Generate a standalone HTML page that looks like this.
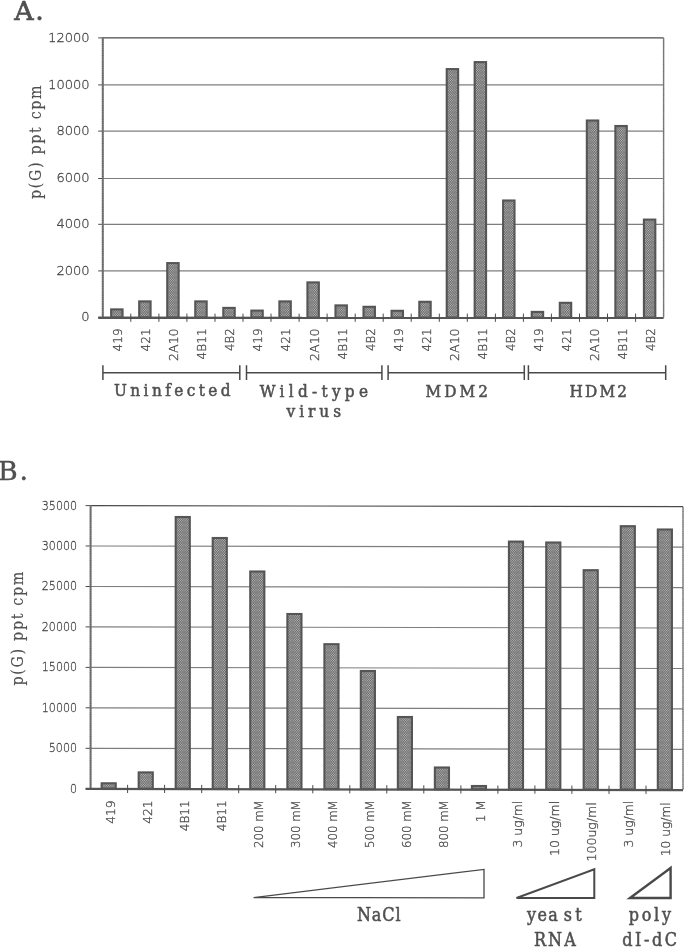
<!DOCTYPE html>
<html><head><meta charset="utf-8"><title>Figure</title>
<style>
html,body{margin:0;padding:0;background:#fff;}
svg{display:block;}
.sans{font-family:"DejaVu Sans","Liberation Sans",sans-serif;font-weight:200;fill:#484848;stroke:#484848;stroke-width:0.3px;}
.serif{font-family:"DejaVu Serif Condensed","DejaVu Serif","Liberation Serif",serif;font-stretch:condensed;fill:#505050;stroke:#505050;stroke-width:0.5px;}
.wide{font-family:"DejaVu Serif","Liberation Serif",serif;font-stretch:normal;}
</style></head><body>
<svg width="685" height="948" viewBox="0 0 685 948">
<defs>
<pattern id="ht" width="9" height="5" patternUnits="userSpaceOnUse">
<rect width="9" height="5" fill="#6c6c6c"/>
<g fill="#c4c4c4"><circle cx="0.56" cy="0.62" r="0.54"/><circle cx="2.81" cy="0.62" r="0.54"/><circle cx="5.06" cy="0.62" r="0.54"/><circle cx="7.31" cy="0.62" r="0.54"/><circle cx="1.69" cy="1.87" r="0.54"/><circle cx="3.94" cy="1.87" r="0.54"/><circle cx="6.19" cy="1.87" r="0.54"/><circle cx="8.44" cy="1.87" r="0.54"/><circle cx="0.56" cy="3.12" r="0.54"/><circle cx="2.81" cy="3.12" r="0.54"/><circle cx="5.06" cy="3.12" r="0.54"/><circle cx="7.31" cy="3.12" r="0.54"/><circle cx="1.69" cy="4.37" r="0.54"/><circle cx="3.94" cy="4.37" r="0.54"/><circle cx="6.19" cy="4.37" r="0.54"/><circle cx="8.44" cy="4.37" r="0.54"/></g>
</pattern>
<filter id="soft" x="-5%" y="-5%" width="110%" height="110%"><feGaussianBlur stdDeviation="0.45"/></filter>
</defs>
<rect width="685" height="948" fill="#fff"/>
<g filter="url(#soft)">

<line x1="98.2" y1="317.6" x2="102.8" y2="317.6" stroke="#4a4a4a" stroke-width="1"/>
<text class="sans" x="89.6" y="321.1" font-size="12.7" text-anchor="end" textLength="8.3" lengthAdjust="spacingAndGlyphs">0</text>
<line x1="102.8" y1="270.9" x2="663.6" y2="270.9" stroke="#7e7e7e" stroke-width="1.15"/>
<line x1="98.2" y1="270.9" x2="102.8" y2="270.9" stroke="#4a4a4a" stroke-width="1"/>
<text class="sans" x="89.6" y="274.5" font-size="12.7" text-anchor="end" textLength="33.2" lengthAdjust="spacingAndGlyphs">2000</text>
<line x1="102.8" y1="224.3" x2="663.6" y2="224.3" stroke="#7e7e7e" stroke-width="1.15"/>
<line x1="98.2" y1="224.3" x2="102.8" y2="224.3" stroke="#4a4a4a" stroke-width="1"/>
<text class="sans" x="89.6" y="227.9" font-size="12.7" text-anchor="end" textLength="33.2" lengthAdjust="spacingAndGlyphs">4000</text>
<line x1="102.8" y1="178.5" x2="663.6" y2="178.5" stroke="#7e7e7e" stroke-width="1.15"/>
<line x1="98.2" y1="178.5" x2="102.8" y2="178.5" stroke="#4a4a4a" stroke-width="1"/>
<text class="sans" x="89.6" y="182.1" font-size="12.7" text-anchor="end" textLength="33.2" lengthAdjust="spacingAndGlyphs">6000</text>
<line x1="102.8" y1="131.1" x2="663.6" y2="131.1" stroke="#7e7e7e" stroke-width="1.15"/>
<line x1="98.2" y1="131.1" x2="102.8" y2="131.1" stroke="#4a4a4a" stroke-width="1"/>
<text class="sans" x="89.6" y="134.7" font-size="12.7" text-anchor="end" textLength="33.2" lengthAdjust="spacingAndGlyphs">8000</text>
<line x1="102.8" y1="84.9" x2="663.6" y2="84.9" stroke="#7e7e7e" stroke-width="1.15"/>
<line x1="98.2" y1="84.9" x2="102.8" y2="84.9" stroke="#4a4a4a" stroke-width="1"/>
<text class="sans" x="89.6" y="88.5" font-size="12.7" text-anchor="end" textLength="41.5" lengthAdjust="spacingAndGlyphs">10000</text>
<line x1="98.2" y1="37.9" x2="102.8" y2="37.9" stroke="#4a4a4a" stroke-width="1"/>
<text class="sans" x="89.6" y="41.5" font-size="12.7" text-anchor="end" textLength="41.5" lengthAdjust="spacingAndGlyphs">12000</text>
<line x1="102.8" y1="37.9" x2="663.6" y2="37.9" stroke="#4a4a4a" stroke-width="1.2"/>
<line x1="663.6" y1="37.9" x2="663.6" y2="317.55" stroke="#808080" stroke-width="1.4"/>
<line x1="663.6" y1="37.9" x2="663.6" y2="317.55" stroke="#4a4a4a" stroke-width="1.4" stroke-dasharray="0.9 1.3" opacity="0.35"/>
<rect x="111.15" y="309.4" width="11.4" height="8.2" fill="url(#ht)" stroke="#555" stroke-width="2.1"/>
<rect x="139.19" y="301.4" width="11.4" height="16.2" fill="url(#ht)" stroke="#555" stroke-width="2.1"/>
<rect x="167.23" y="263.1" width="11.4" height="54.5" fill="url(#ht)" stroke="#555" stroke-width="2.1"/>
<rect x="195.27" y="301.4" width="11.4" height="16.2" fill="url(#ht)" stroke="#555" stroke-width="2.1"/>
<rect x="223.31" y="307.9" width="11.4" height="9.7" fill="url(#ht)" stroke="#555" stroke-width="2.1"/>
<rect x="251.35" y="310.6" width="11.4" height="7.0" fill="url(#ht)" stroke="#555" stroke-width="2.1"/>
<rect x="279.39" y="301.4" width="11.4" height="16.2" fill="url(#ht)" stroke="#555" stroke-width="2.1"/>
<rect x="307.43" y="282.4" width="11.4" height="35.2" fill="url(#ht)" stroke="#555" stroke-width="2.1"/>
<rect x="335.47" y="305.4" width="11.4" height="12.2" fill="url(#ht)" stroke="#555" stroke-width="2.1"/>
<rect x="363.51" y="306.8" width="11.4" height="10.8" fill="url(#ht)" stroke="#555" stroke-width="2.1"/>
<rect x="391.55" y="310.8" width="11.4" height="6.8" fill="url(#ht)" stroke="#555" stroke-width="2.1"/>
<rect x="419.29" y="301.8" width="11.4" height="15.8" fill="url(#ht)" stroke="#555" stroke-width="2.1"/>
<rect x="446.73" y="69.1" width="11.4" height="248.4" fill="url(#ht)" stroke="#555" stroke-width="2.1"/>
<rect x="474.67" y="62.1" width="11.4" height="255.4" fill="url(#ht)" stroke="#555" stroke-width="2.1"/>
<rect x="503.11" y="200.5" width="11.4" height="117.1" fill="url(#ht)" stroke="#555" stroke-width="2.1"/>
<rect x="531.75" y="311.9" width="11.4" height="5.7" fill="url(#ht)" stroke="#555" stroke-width="2.1"/>
<rect x="559.79" y="302.8" width="11.4" height="14.8" fill="url(#ht)" stroke="#555" stroke-width="2.1"/>
<rect x="586.83" y="120.5" width="11.4" height="197.0" fill="url(#ht)" stroke="#555" stroke-width="2.1"/>
<rect x="615.37" y="126.0" width="11.4" height="191.5" fill="url(#ht)" stroke="#555" stroke-width="2.1"/>
<rect x="643.91" y="219.6" width="11.4" height="98.0" fill="url(#ht)" stroke="#555" stroke-width="2.1"/>
<line x1="102.8" y1="37.4" x2="102.8" y2="318.05" stroke="#747474" stroke-width="2"/>
<line x1="102.8" y1="37.4" x2="102.8" y2="318.05" stroke="#4a4a4a" stroke-width="2" stroke-dasharray="0.9 1.3" opacity="0.35"/>
<line x1="98.2" y1="317.75" x2="663.6" y2="317.95" stroke="#555" stroke-width="2.3"/>
<line x1="130.8" y1="313.6" x2="130.8" y2="321.8" stroke="#4a4a4a" stroke-width="1"/>
<line x1="158.9" y1="313.6" x2="158.9" y2="321.8" stroke="#4a4a4a" stroke-width="1"/>
<line x1="186.9" y1="313.6" x2="186.9" y2="321.8" stroke="#4a4a4a" stroke-width="1"/>
<line x1="215.0" y1="313.6" x2="215.0" y2="321.8" stroke="#4a4a4a" stroke-width="1"/>
<line x1="243.0" y1="313.6" x2="243.0" y2="321.8" stroke="#4a4a4a" stroke-width="1"/>
<line x1="271.0" y1="313.6" x2="271.0" y2="321.8" stroke="#4a4a4a" stroke-width="1"/>
<line x1="299.1" y1="313.6" x2="299.1" y2="321.8" stroke="#4a4a4a" stroke-width="1"/>
<line x1="327.1" y1="313.6" x2="327.1" y2="321.8" stroke="#4a4a4a" stroke-width="1"/>
<line x1="355.2" y1="313.6" x2="355.2" y2="321.8" stroke="#4a4a4a" stroke-width="1"/>
<line x1="383.2" y1="313.6" x2="383.2" y2="321.8" stroke="#4a4a4a" stroke-width="1"/>
<line x1="411.2" y1="313.6" x2="411.2" y2="321.8" stroke="#4a4a4a" stroke-width="1"/>
<line x1="439.3" y1="313.6" x2="439.3" y2="321.8" stroke="#4a4a4a" stroke-width="1"/>
<line x1="467.3" y1="313.6" x2="467.3" y2="321.8" stroke="#4a4a4a" stroke-width="1"/>
<line x1="495.4" y1="313.6" x2="495.4" y2="321.8" stroke="#4a4a4a" stroke-width="1"/>
<line x1="523.4" y1="313.6" x2="523.4" y2="321.8" stroke="#4a4a4a" stroke-width="1"/>
<line x1="551.4" y1="313.6" x2="551.4" y2="321.8" stroke="#4a4a4a" stroke-width="1"/>
<line x1="579.5" y1="313.6" x2="579.5" y2="321.8" stroke="#4a4a4a" stroke-width="1"/>
<line x1="607.5" y1="313.6" x2="607.5" y2="321.8" stroke="#4a4a4a" stroke-width="1"/>
<line x1="635.6" y1="313.6" x2="635.6" y2="321.8" stroke="#4a4a4a" stroke-width="1"/>
<text class="sans" transform="translate(122.2,328.4) rotate(-90)" font-size="13" text-anchor="end" textLength="23" lengthAdjust="spacingAndGlyphs">419</text>
<text class="sans" transform="translate(150.2,328.4) rotate(-90)" font-size="13" text-anchor="end" textLength="23" lengthAdjust="spacingAndGlyphs">421</text>
<text class="sans" transform="translate(178.3,328.4) rotate(-90)" font-size="13" text-anchor="end" textLength="32.5" lengthAdjust="spacingAndGlyphs">2A10</text>
<text class="sans" transform="translate(206.3,328.4) rotate(-90)" font-size="13" text-anchor="end" textLength="31" lengthAdjust="spacingAndGlyphs">4B11</text>
<text class="sans" transform="translate(234.4,328.4) rotate(-90)" font-size="13" text-anchor="end" textLength="22.5" lengthAdjust="spacingAndGlyphs">4B2</text>
<text class="sans" transform="translate(262.4,328.4) rotate(-90)" font-size="13" text-anchor="end" textLength="23" lengthAdjust="spacingAndGlyphs">419</text>
<text class="sans" transform="translate(290.4,328.4) rotate(-90)" font-size="13" text-anchor="end" textLength="23" lengthAdjust="spacingAndGlyphs">421</text>
<text class="sans" transform="translate(318.5,328.4) rotate(-90)" font-size="13" text-anchor="end" textLength="32.5" lengthAdjust="spacingAndGlyphs">2A10</text>
<text class="sans" transform="translate(346.5,328.4) rotate(-90)" font-size="13" text-anchor="end" textLength="31" lengthAdjust="spacingAndGlyphs">4B11</text>
<text class="sans" transform="translate(374.6,328.4) rotate(-90)" font-size="13" text-anchor="end" textLength="22.5" lengthAdjust="spacingAndGlyphs">4B2</text>
<text class="sans" transform="translate(402.6,328.4) rotate(-90)" font-size="13" text-anchor="end" textLength="23" lengthAdjust="spacingAndGlyphs">419</text>
<text class="sans" transform="translate(430.6,328.4) rotate(-90)" font-size="13" text-anchor="end" textLength="23" lengthAdjust="spacingAndGlyphs">421</text>
<text class="sans" transform="translate(458.7,328.4) rotate(-90)" font-size="13" text-anchor="end" textLength="32.5" lengthAdjust="spacingAndGlyphs">2A10</text>
<text class="sans" transform="translate(486.7,328.4) rotate(-90)" font-size="13" text-anchor="end" textLength="31" lengthAdjust="spacingAndGlyphs">4B11</text>
<text class="sans" transform="translate(514.8,328.4) rotate(-90)" font-size="13" text-anchor="end" textLength="22.5" lengthAdjust="spacingAndGlyphs">4B2</text>
<text class="sans" transform="translate(542.8,328.4) rotate(-90)" font-size="13" text-anchor="end" textLength="23" lengthAdjust="spacingAndGlyphs">419</text>
<text class="sans" transform="translate(570.8,328.4) rotate(-90)" font-size="13" text-anchor="end" textLength="23" lengthAdjust="spacingAndGlyphs">421</text>
<text class="sans" transform="translate(598.9,328.4) rotate(-90)" font-size="13" text-anchor="end" textLength="32.5" lengthAdjust="spacingAndGlyphs">2A10</text>
<text class="sans" transform="translate(626.9,328.4) rotate(-90)" font-size="13" text-anchor="end" textLength="31" lengthAdjust="spacingAndGlyphs">4B11</text>
<text class="sans" transform="translate(655.0,328.4) rotate(-90)" font-size="13" text-anchor="end" textLength="22.5" lengthAdjust="spacingAndGlyphs">4B2</text>
<line x1="85.6" y1="788.7" x2="90.6" y2="788.7" stroke="#4a4a4a" stroke-width="1"/>
<text class="sans" x="77" y="792.7" font-size="12.4" text-anchor="end" textLength="7.0" lengthAdjust="spacingAndGlyphs">0</text>
<line x1="90.6" y1="748.3" x2="683.0" y2="749.4" stroke="#7e7e7e" stroke-width="1.15"/>
<line x1="85.6" y1="748.3" x2="90.6" y2="748.3" stroke="#4a4a4a" stroke-width="1"/>
<text class="sans" x="77" y="752.2" font-size="12.4" text-anchor="end" textLength="28.2" lengthAdjust="spacingAndGlyphs">5000</text>
<line x1="90.6" y1="707.8" x2="683.0" y2="708.9" stroke="#7e7e7e" stroke-width="1.15"/>
<line x1="85.6" y1="707.8" x2="90.6" y2="707.8" stroke="#4a4a4a" stroke-width="1"/>
<text class="sans" x="77" y="711.8" font-size="12.4" text-anchor="end" textLength="35.2" lengthAdjust="spacingAndGlyphs">10000</text>
<line x1="90.6" y1="667.4" x2="683.0" y2="668.5" stroke="#7e7e7e" stroke-width="1.15"/>
<line x1="85.6" y1="667.4" x2="90.6" y2="667.4" stroke="#4a4a4a" stroke-width="1"/>
<text class="sans" x="77" y="671.3" font-size="12.4" text-anchor="end" textLength="35.2" lengthAdjust="spacingAndGlyphs">15000</text>
<line x1="90.6" y1="626.9" x2="683.0" y2="628.0" stroke="#7e7e7e" stroke-width="1.15"/>
<line x1="85.6" y1="626.9" x2="90.6" y2="626.9" stroke="#4a4a4a" stroke-width="1"/>
<text class="sans" x="77" y="630.9" font-size="12.4" text-anchor="end" textLength="35.2" lengthAdjust="spacingAndGlyphs">20000</text>
<line x1="90.6" y1="586.5" x2="683.0" y2="587.6" stroke="#7e7e7e" stroke-width="1.15"/>
<line x1="85.6" y1="586.5" x2="90.6" y2="586.5" stroke="#4a4a4a" stroke-width="1"/>
<text class="sans" x="77" y="590.4" font-size="12.4" text-anchor="end" textLength="35.2" lengthAdjust="spacingAndGlyphs">25000</text>
<line x1="90.6" y1="546.0" x2="683.0" y2="547.1" stroke="#7e7e7e" stroke-width="1.15"/>
<line x1="85.6" y1="546.0" x2="90.6" y2="546.0" stroke="#4a4a4a" stroke-width="1"/>
<text class="sans" x="77" y="550.0" font-size="12.4" text-anchor="end" textLength="35.2" lengthAdjust="spacingAndGlyphs">30000</text>
<line x1="85.6" y1="505.6" x2="90.6" y2="505.6" stroke="#4a4a4a" stroke-width="1"/>
<text class="sans" x="77" y="509.6" font-size="12.4" text-anchor="end" textLength="35.2" lengthAdjust="spacingAndGlyphs">35000</text>
<line x1="90.6" y1="505.6" x2="683.0" y2="506.70000000000005" stroke="#4a4a4a" stroke-width="1.2"/>
<line x1="683.0" y1="506.70000000000005" x2="683.0" y2="789.8000000000001" stroke="#808080" stroke-width="1.4"/>
<line x1="683.0" y1="506.70000000000005" x2="683.0" y2="789.8000000000001" stroke="#4a4a4a" stroke-width="1.4" stroke-dasharray="0.9 1.3" opacity="0.35"/>
<rect x="101.65" y="783.3" width="14.1" height="5.4" fill="url(#ht)" stroke="#555" stroke-width="2.1"/>
<rect x="138.68" y="772.4" width="14.1" height="16.4" fill="url(#ht)" stroke="#555" stroke-width="2.1"/>
<rect x="175.70" y="517.0" width="14.1" height="271.8" fill="url(#ht)" stroke="#555" stroke-width="2.1"/>
<rect x="212.72" y="538.0" width="14.1" height="250.9" fill="url(#ht)" stroke="#555" stroke-width="2.1"/>
<rect x="250.25" y="571.5" width="14.1" height="217.5" fill="url(#ht)" stroke="#555" stroke-width="2.1"/>
<rect x="287.38" y="614.0" width="14.1" height="175.0" fill="url(#ht)" stroke="#555" stroke-width="2.1"/>
<rect x="324.40" y="644.2" width="14.1" height="144.9" fill="url(#ht)" stroke="#555" stroke-width="2.1"/>
<rect x="360.82" y="671.0" width="14.1" height="118.2" fill="url(#ht)" stroke="#555" stroke-width="2.1"/>
<rect x="397.85" y="717.0" width="14.1" height="72.2" fill="url(#ht)" stroke="#555" stroke-width="2.1"/>
<rect x="434.87" y="767.5" width="14.1" height="21.8" fill="url(#ht)" stroke="#555" stroke-width="2.1"/>
<rect x="471.90" y="786.0" width="14.1" height="3.4" fill="url(#ht)" stroke="#555" stroke-width="2.1"/>
<rect x="508.92" y="541.6" width="14.1" height="247.8" fill="url(#ht)" stroke="#555" stroke-width="2.1"/>
<rect x="546.25" y="542.5" width="14.1" height="247.0" fill="url(#ht)" stroke="#555" stroke-width="2.1"/>
<rect x="583.67" y="570.2" width="14.1" height="219.4" fill="url(#ht)" stroke="#555" stroke-width="2.1"/>
<rect x="620.75" y="526.2" width="14.1" height="263.4" fill="url(#ht)" stroke="#555" stroke-width="2.1"/>
<rect x="657.82" y="529.5" width="14.1" height="260.2" fill="url(#ht)" stroke="#555" stroke-width="2.1"/>
<line x1="90.6" y1="505.1" x2="90.6" y2="789.2" stroke="#747474" stroke-width="2"/>
<line x1="90.6" y1="505.1" x2="90.6" y2="789.2" stroke="#4a4a4a" stroke-width="2" stroke-dasharray="0.9 1.3" opacity="0.35"/>
<line x1="85.6" y1="788.9000000000001" x2="683.0" y2="790.2" stroke="#555" stroke-width="2.3"/>
<line x1="127.6" y1="784.8" x2="127.6" y2="793.0" stroke="#4a4a4a" stroke-width="1"/>
<line x1="164.6" y1="784.8" x2="164.6" y2="793.0" stroke="#4a4a4a" stroke-width="1"/>
<line x1="201.7" y1="784.9" x2="201.7" y2="793.1" stroke="#4a4a4a" stroke-width="1"/>
<line x1="238.7" y1="785.0" x2="238.7" y2="793.2" stroke="#4a4a4a" stroke-width="1"/>
<line x1="275.7" y1="785.0" x2="275.7" y2="793.2" stroke="#4a4a4a" stroke-width="1"/>
<line x1="312.8" y1="785.1" x2="312.8" y2="793.3" stroke="#4a4a4a" stroke-width="1"/>
<line x1="349.8" y1="785.2" x2="349.8" y2="793.4" stroke="#4a4a4a" stroke-width="1"/>
<line x1="386.8" y1="785.2" x2="386.8" y2="793.5" stroke="#4a4a4a" stroke-width="1"/>
<line x1="423.8" y1="785.3" x2="423.8" y2="793.5" stroke="#4a4a4a" stroke-width="1"/>
<line x1="460.9" y1="785.4" x2="460.9" y2="793.6" stroke="#4a4a4a" stroke-width="1"/>
<line x1="497.9" y1="785.5" x2="497.9" y2="793.7" stroke="#4a4a4a" stroke-width="1"/>
<line x1="534.9" y1="785.5" x2="534.9" y2="793.7" stroke="#4a4a4a" stroke-width="1"/>
<line x1="571.9" y1="785.6" x2="571.9" y2="793.8" stroke="#4a4a4a" stroke-width="1"/>
<line x1="609.0" y1="785.7" x2="609.0" y2="793.9" stroke="#4a4a4a" stroke-width="1"/>
<line x1="646.0" y1="785.7" x2="646.0" y2="793.9" stroke="#4a4a4a" stroke-width="1"/>
<text class="sans" transform="translate(114.9,800.3) rotate(-90)" font-size="12" text-anchor="end" textLength="23.5" lengthAdjust="spacingAndGlyphs">419</text>
<text class="sans" transform="translate(152.0,800.3) rotate(-90)" font-size="12" text-anchor="end" textLength="23.5" lengthAdjust="spacingAndGlyphs">421</text>
<text class="sans" transform="translate(189.0,800.3) rotate(-90)" font-size="12" text-anchor="end" textLength="31" lengthAdjust="spacingAndGlyphs">4B11</text>
<text class="sans" transform="translate(226.0,800.3) rotate(-90)" font-size="12" text-anchor="end" textLength="31" lengthAdjust="spacingAndGlyphs">4B11</text>
<text class="sans" transform="translate(263.0,800.3) rotate(-90)" font-size="12" text-anchor="end" textLength="47.6" lengthAdjust="spacingAndGlyphs">200 mM</text>
<text class="sans" transform="translate(300.1,800.3) rotate(-90)" font-size="12" text-anchor="end" textLength="47.6" lengthAdjust="spacingAndGlyphs">300 mM</text>
<text class="sans" transform="translate(337.1,800.3) rotate(-90)" font-size="12" text-anchor="end" textLength="47.6" lengthAdjust="spacingAndGlyphs">400 mM</text>
<text class="sans" transform="translate(374.1,800.3) rotate(-90)" font-size="12" text-anchor="end" textLength="47.6" lengthAdjust="spacingAndGlyphs">500 mM</text>
<text class="sans" transform="translate(411.1,800.3) rotate(-90)" font-size="12" text-anchor="end" textLength="47.6" lengthAdjust="spacingAndGlyphs">600 mM</text>
<text class="sans" transform="translate(448.2,800.3) rotate(-90)" font-size="12" text-anchor="end" textLength="47.6" lengthAdjust="spacingAndGlyphs">800 mM</text>
<text class="sans" transform="translate(485.2,800.3) rotate(-90)" font-size="12" text-anchor="end" textLength="22" lengthAdjust="spacingAndGlyphs">1 M</text>
<text class="sans" transform="translate(522.2,800.9) rotate(-90)" font-size="12" text-anchor="end" textLength="46.5" lengthAdjust="spacingAndGlyphs">3 ug/ml</text>
<text class="sans" transform="translate(559.2,800.9) rotate(-90)" font-size="12" text-anchor="end" textLength="55" lengthAdjust="spacingAndGlyphs">10 ug/ml</text>
<text class="sans" transform="translate(596.3,802.3) rotate(-90)" font-size="12" text-anchor="end" textLength="59.2" lengthAdjust="spacingAndGlyphs">100ug/ml</text>
<text class="sans" transform="translate(633.3,800.9) rotate(-90)" font-size="12" text-anchor="end" textLength="46.5" lengthAdjust="spacingAndGlyphs">3 ug/ml</text>
<text class="sans" transform="translate(670.3,802.3) rotate(-90)" font-size="12" text-anchor="end" textLength="54" lengthAdjust="spacingAndGlyphs">10 ug/ml</text>
<text class="serif wide" x="14.3" y="20.2" font-size="26.8" style="stroke-width:0.7px" textLength="29.5" lengthAdjust="spacing">A.</text>
<text class="serif wide" x="-2" y="480.4" font-size="26.8" style="stroke-width:0.45px" textLength="30" lengthAdjust="spacing">B.</text>
<text class="serif" transform="translate(40.6,199) rotate(-90)" font-size="15.8" style="stroke-width:0.15px" textLength="113.6" lengthAdjust="spacing">p(G) ppt cpm</text>
<text class="serif" transform="translate(23.3,685.5) rotate(-90)" font-size="15.8" style="stroke-width:0.15px" textLength="113.8" lengthAdjust="spacing">p(G) ppt cpm</text>
<path d="M102.9 365.3V380.09999999999997M239.8 365.3V380.09999999999997M102.9 372.7H239.8" fill="none" stroke="#4a4a4a" stroke-width="1.5"/>
<path d="M246.5 365.3V380.09999999999997M381.9 365.3V380.09999999999997M246.5 372.7H381.9" fill="none" stroke="#4a4a4a" stroke-width="1.5"/>
<path d="M388.1 365.3V380.09999999999997M524.3 365.3V380.09999999999997M388.1 372.7H524.3" fill="none" stroke="#4a4a4a" stroke-width="1.5"/>
<path d="M528.4 365.3V380.09999999999997M665.7 365.3V380.09999999999997M528.4 372.7H665.7" fill="none" stroke="#4a4a4a" stroke-width="1.5"/>
<text class="serif" x="114" y="395.8" font-size="17" textLength="116.5" lengthAdjust="spacing">Uninfected</text>
<text class="serif" x="259.8" y="396.7" font-size="17" textLength="108.2" lengthAdjust="spacing">Wild-type</text>
<text class="serif" x="286.6" y="417" font-size="17" textLength="54.4" lengthAdjust="spacing">virus</text>
<text class="serif" x="425.5" y="396.8" font-size="17" textLength="62.5" lengthAdjust="spacing">MDM2</text>
<text class="serif" x="569.4" y="396.9" font-size="17" textLength="57.6" lengthAdjust="spacing">HDM2</text>
<path d="M253.6 897.6 L484 869.4 V897.8 Z" fill="#fff" stroke="#4a4a4a" stroke-width="1.3" stroke-linejoin="miter"/>
<path d="M516.5 898 L594.3 869.3 V898 Z" fill="#fff" stroke="#4a4a4a" stroke-width="2" stroke-linejoin="miter"/>
<path d="M630 898 L670.6 868 V898 Z" fill="#fff" stroke="#4a4a4a" stroke-width="2.4" stroke-linejoin="miter"/>
<text class="serif" x="357" y="920.7" font-size="17.8" textLength="43.5" lengthAdjust="spacing">NaCl</text>
<text class="serif" x="527" y="920.7" font-size="17.8" textLength="30.8" lengthAdjust="spacing">yea</text>
<text class="serif" x="563.8" y="920.7" font-size="17.8" textLength="18.0" lengthAdjust="spacing">st</text>
<text class="serif" x="533.9" y="946.2" font-size="17.8" textLength="41.9" lengthAdjust="spacing">RNA</text>
<text class="serif" x="628.8" y="920.7" font-size="17.8" textLength="42.2" lengthAdjust="spacing">poly</text>
<text class="serif" x="622.2" y="946.2" font-size="17.8" textLength="54.8" lengthAdjust="spacing">dI-dC</text>
</g></svg></body></html>
